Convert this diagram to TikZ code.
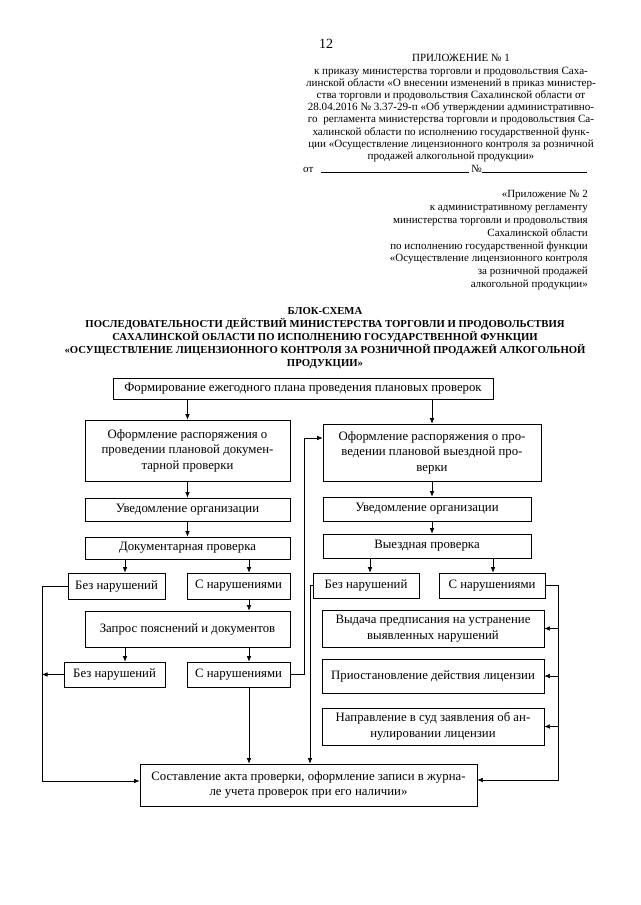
\documentclass[tikz,border=0pt]{standalone}
\usepackage{fontspec}
\setmainfont{Liberation Serif}
\usetikzlibrary{arrows.meta,calc}
\newcommand\bx[6]{\node[box, minimum width={(#4-#2)*1pt}, minimum height={(#5-#3)*1pt}] (#1) at ({(#2+#4)/2},{(#3+#5)/2}) {#6};}
\begin{document}
\begin{tikzpicture}[x=1pt,y=-1pt,
  box/.style={draw, line width=0.7pt, inner sep=1pt, align=center, font=\fontsize{12.8}{15.5}\selectfont},
  arr/.style={line width=0.6pt, -{Latex[length=5.5pt,width=4.5pt]}},
  ln/.style={line width=0.6pt},
  hdr/.style={inner sep=0pt, font=\fontsize{11}{12.2}\selectfont},
  ttl/.style={inner sep=0pt, align=center, font=\fontsize{10.7}{13}\selectfont\bfseries}]
\useasboundingbox (0,0) rectangle (640,905);

% header
\node[inner sep=0pt, anchor=base west, font=\fontsize{14}{16}\selectfont] (pg) at (319,48) {12};
\node[hdr, anchor=base] (pril1) at (461,61) {ПРИЛОЖЕНИЕ № 1};
\node[hdr, anchor=north, align=center, font=\fontsize{11.1}{12.1}\selectfont] (par1) at (451,67) {к приказу министерства торговли и продовольствия Саха-\\
линской области «О внесении изменений в приказ министер-\\
ства торговли и продовольствия Сахалинской области от\\
28.04.2016 № 3.37-29-п «Об утверждении административно-\\
го\ \ регламента министерства торговли и продовольствия Са-\\
халинской области по исполнению государственной функ-\\
ции «Осуществление лицензионного контроля за розничной\\
продажей алкогольной продукции»};
\node[hdr, anchor=base west] (ot) at (303,172) {от\hspace{8pt}\rule{148pt}{0.5pt}\hspace{2pt}№\rule{105pt}{0.5pt}};

\node[hdr, anchor=north east, align=right, font=\fontsize{11}{12.9}\selectfont] (par2) at (588,190) {«Приложение № 2\\
к административному регламенту\\
министерства торговли и продовольствия\\
Сахалинской области\\
по исполнению государственной функции\\
«Осуществление лицензионного контроля\\
за розничной продажей\\
алкогольной продукции»};

% title
\node[ttl, anchor=north] (title) at (325,307) {БЛОК-СХЕМА\\
ПОСЛЕДОВАТЕЛЬНОСТИ ДЕЙСТВИЙ МИНИСТЕРСТВА ТОРГОВЛИ И ПРОДОВОЛЬСТВИЯ\\
САХАЛИНСКОЙ ОБЛАСТИ ПО ИСПОЛНЕНИЮ ГОСУДАРСТВЕННОЙ ФУНКЦИИ\\
«ОСУЩЕСТВЛЕНИЕ ЛИЦЕНЗИОННОГО КОНТРОЛЯ ЗА РОЗНИЧНОЙ ПРОДАЖЕЙ АЛКОГОЛЬНОЙ\\
ПРОДУКЦИИ»};

% boxes
\bx{top}{113}{378}{493}{399}{Формирование ежегодного плана проведения плановых проверок}
\bx{lb1}{85}{420}{290}{481}{Оформление распоряжения о\\проведении плановой докумен-\\тарной проверки}
\bx{rb1}{323}{424}{541}{481}{Оформление распоряжения о про-\\ведении плановой выездной про-\\верки}
\bx{lu}{85}{498}{290}{521}{Уведомление организации}
\bx{ld}{85}{537}{290}{559}{Документарная проверка}
\bx{ru}{323}{497}{531}{521}{Уведомление организации}
\bx{rv}{323}{534}{531}{558}{Выездная проверка}
\bx{lbez1}{68}{573}{165}{599}{Без нарушений}
\bx{ls1}{187}{573}{290}{599}{С нарушениями}
\bx{zap}{85}{611}{290}{647}{Запрос пояснений и документов}
\bx{lbez2}{64}{662}{165}{687}{Без нарушений}
\bx{ls2}{187}{662}{290}{687}{С нарушениями}
\bx{rbez}{313}{573}{419}{598}{Без нарушений}
\bx{rs}{439}{573}{545}{598}{С нарушениями}
\bx{vyd}{322}{610}{544}{647}{Выдача предписания на устранение\\выявленных нарушений}
\bx{pri}{322}{659}{544}{693}{Приостановление действия лицензии}
\bx{nap}{322}{708}{544}{745}{Направление в суд заявления об ан-\\нулировании лицензии}
\bx{bot}{140}{764}{477}{806}{Составление акта проверки, оформление записи в журна-\\ле учета проверок при его наличии»}

% helper coordinates
\coordinate (xa) at (125,0);
\coordinate (xb) at (249,0);
\coordinate (xc) at (370,0);
\coordinate (xd) at (493,0);
\coordinate (xr) at (432,0);
\coordinate (L) at (42,781);
\coordinate (M) at (304,438);
\coordinate (N) at (310,0);
\coordinate (R) at (558,780);

% connectors
\draw[arr] (top.south -| lb1.north) -- (lb1.north);
\draw[arr] (top.south -| rb1.north) -- (rb1.north);
\draw[arr] (lb1.south) -- (lu.north);
\draw[arr] (lu.south) -- (ld.north -| lu.south);
\draw[arr] (rb1.south -| xr) -- (ru.north -| xr);
\draw[arr] (ru.south -| xr) -- (rv.north -| xr);
\draw[arr] (ld.south -| xa) -- (lbez1.north -| xa);
\draw[arr] (ld.south -| xb) -- (ls1.north -| xb);
\draw[arr] (ls1.south -| xb) -- (zap.north -| xb);
\draw[arr] (zap.south -| xa) -- (lbez2.north -| xa);
\draw[arr] (zap.south -| xb) -- (ls2.north -| xb);
\draw[arr] (rv.south -| xc) -- (rbez.north -| xc);
\draw[arr] (rv.south -| xd) -- (rs.north -| xd);
\draw[arr] (lbez1.west) -| (L) -- (bot.west |- L);
\draw[arr] (lbez2.west) -- (lbez2.west -| L);
\draw[arr] (ls2.east) -| (M) -- (rb1.west |- M);
\draw[arr] (ls2.south -| xb) -- (bot.north -| xb);
\draw[arr] (rbez.west) -| (bot.north -| N);
\draw[arr] (rs.east) -| (R) -- (bot.east |- R);
\draw[arr] (vyd.east -| R) -- (vyd.east);
\draw[arr] (pri.east -| R) -- (pri.east);
\draw[arr] (nap.east -| R) -- (nap.east);
\end{tikzpicture}
\end{document}
